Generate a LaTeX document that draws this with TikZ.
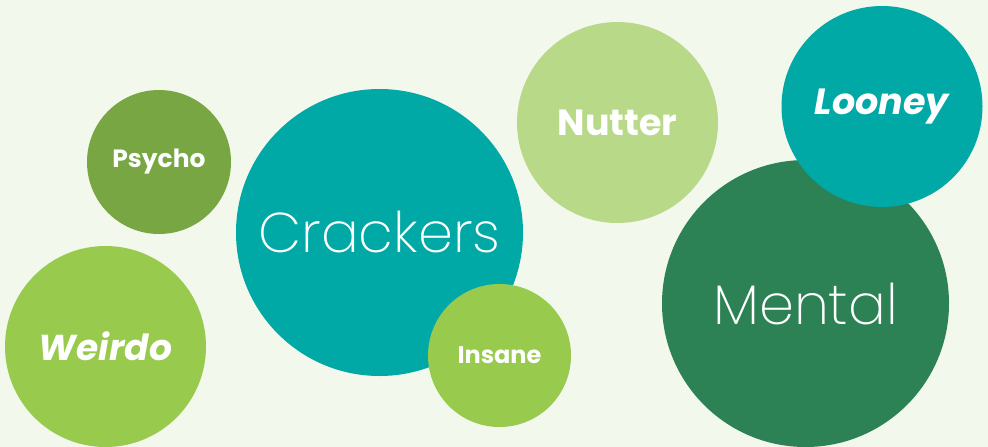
\documentclass[tikz,border=0pt]{standalone}
\usepackage{fontspec}
\setmainfont{Poppins}[UprightFont={* Bold}, ItalicFont={* Bold Italic}]
\newfontfamily\lightfont{Poppins}[UprightFont={* ExtraLight}]
\definecolor{bgpaper}{HTML}{F3F8EC}
\definecolor{teal}{HTML}{00A8A6}
\definecolor{olive}{HTML}{77A642}
\definecolor{leaf}{HTML}{98CA4E}
\definecolor{pale}{HTML}{B8D987}
\definecolor{forest}{HTML}{2C8155}

\begin{document}
\begin{tikzpicture}[x=1pt, y=-1pt,
		bubble/.style={circle, draw=none, inner sep=0pt, text=white}]
				\fill[bgpaper] (0,0) rectangle (988,447);
				\useasboundingbox (0,0) rectangle (988,447);
				\node[bubble, fill=olive, minimum size=144pt, font=\fontsize{25}{25}\selectfont] (psycho) at (159,162) {Psycho};
				\node[bubble, fill=teal, minimum size=287pt, font=\lightfont\fontsize{56}{56}\selectfont] (crackers) at (379.5,232.5) {Crackers};
				\node[bubble, fill=leaf, minimum size=201pt, font=\itshape\fontsize{36}{36}\selectfont] (weirdo) at (105.5,346.5) {Weirdo};
				\node[bubble, fill=leaf, minimum size=143pt, font=\fontsize{24}{24}\selectfont] (insane) at (499.5,355.5) {Insane};
				\node[bubble, fill=pale, minimum size=201pt, font=\fontsize{36.5}{36.5}\selectfont] (nutter) at (617.5,122.5) {Nutter};
				\node[bubble, fill=forest, minimum size=287pt, font=\lightfont\fontsize{56}{56}\selectfont] (mental) at (805.5,303.5) {Mental};
				\node[bubble, fill=teal, minimum size=201pt, font=\itshape\fontsize{36.5}{36.5}\selectfont] (looney) at (882,106.5) {Looney};
			\end{tikzpicture}
\end{document}
